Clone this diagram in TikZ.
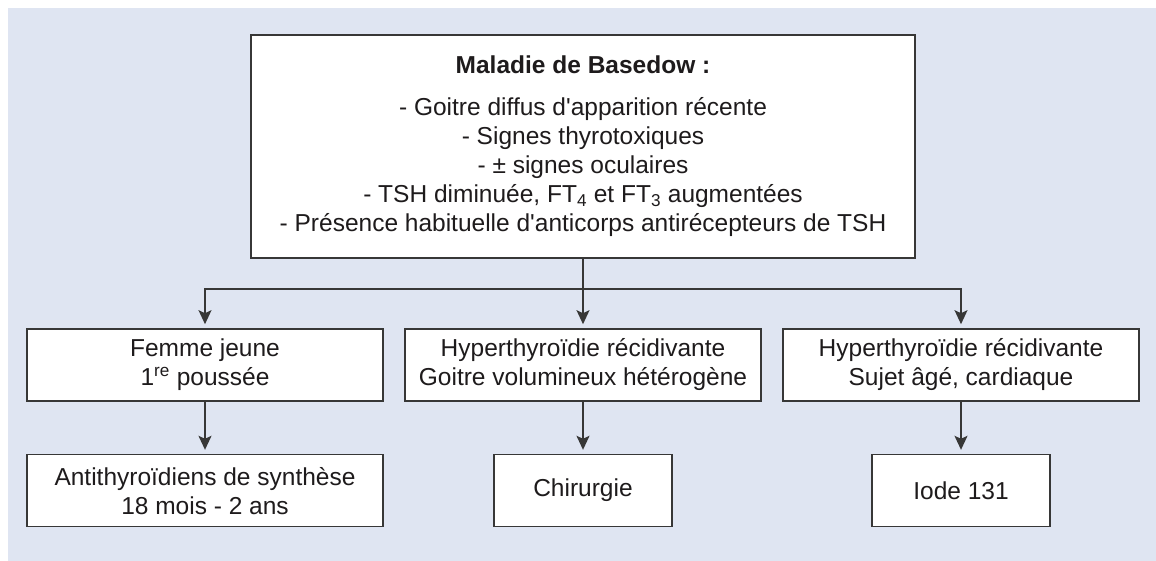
\documentclass[tikz,border=0pt]{standalone}
\usepackage{fontspec}
\setmainfont{Liberation Sans}
\usetikzlibrary{positioning,arrows.meta}
\definecolor{fond}{RGB}{223,229,242}
\definecolor{trait}{RGB}{55,55,55}
\definecolor{encre}{RGB}{30,27,28}
\newcommand{\apos}{\textquotesingle}
\begin{document}
\begin{tikzpicture}[x=1pt,y=1pt]
    \tikzset{box/.style={draw=trait,line width=1.6pt,fill=white,text=encre,
      align=center,minimum height=72pt,inner sep=2pt,
      font=\fontsize{24.5}{29}\selectfont},
    wide/.style={minimum width=356pt},narrow/.style={minimum width=178pt},
    arr/.style={draw=trait,line width=1.5pt,shorten >=4pt,
      -{Stealth[length=14pt,width=13pt,inset=3pt]}}}
    \useasboundingbox (0,0) rectangle (1156,-561);
    \fill[fond] (8,-8) rectangle (1156,-561);
    \node[box,minimum width=664pt,minimum height=223pt] (basedow) at (583,-146.5)
      {\textbf{Maladie de Basedow :}\\[13pt]
       - Goitre diffus d\apos apparition récente\\
       - Signes thyrotoxiques\\
       - ± signes oculaires\\
       - TSH diminuée, FT\textsubscript{4} et FT\textsubscript{3} augmentées\\
       - Présence habituelle d\apos anticorps antirécepteurs de TSH};
    \node[box,wide] (jeune) at (205,-365) {Femme jeune\\1\textsuperscript{re} poussée};
    \node[box,wide] (goitre) [right=20.4pt of jeune] {Hyperthyroïdie récidivante\\
      Goitre volumineux hétérogène};
    \node[box,wide] (sujet) [right=20.4pt of goitre] {Hyperthyroïdie récidivante\\
      Sujet âgé, cardiaque};
    \node[box,wide] (ats) [below=52pt of jeune] {Antithyroïdiens de synthèse\\
      18 mois - 2 ans};%traitement medical
    \node[box,narrow] (chir) [below=52pt of goitre] {Chirurgie};
    \node[box,narrow] (iode) [below=52pt of sujet] {Iode 131};

    \coordinate (fourche) at ([yshift=-30pt]basedow.south);
    \draw[arr] (basedow.south) -- (goitre.north);
    \draw[arr] (fourche) -| (jeune.north);
    \draw[arr] (fourche) -| (sujet.north);
    \draw[arr] (jeune) -- (ats);
    \draw[arr] (goitre) -- (chir);
    \draw[arr] (sujet) -- (iode);
  \end{tikzpicture}
\end{document}
